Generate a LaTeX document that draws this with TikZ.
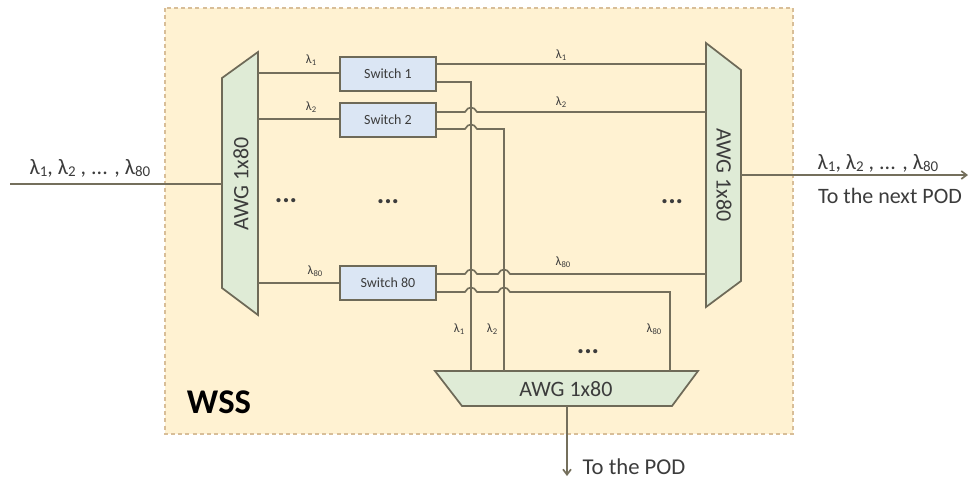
\documentclass[tikz,border=0pt]{standalone}
\usepackage{fontspec}
\setmainfont{Carlito}
\usetikzlibrary{arrows.meta}
\definecolor{wssfill}{HTML}{FFF2D2}
\definecolor{wssedge}{HTML}{D8BE98}
\definecolor{awgfill}{HTML}{DFEBD6}
\definecolor{swfill}{HTML}{DBE6F4}
\definecolor{wire}{HTML}{746F5C}
\definecolor{boxedge}{HTML}{6E6A58}
\definecolor{txt}{HTML}{3C3C3C}
\newcommand{\hopat}[2]{-- ({#1-6},#2) .. controls ({#1-3},{#2-6}) and ({#1+3},{#2-6}) .. ({#1+6},#2)}
\tikzset{
  wssbox/.style={fill=wssfill,draw=wssedge,line width=0.9pt,dash pattern=on 3pt off 2.4pt},
  awgshape/.style={fill=awgfill,draw=boxedge,line width=1.3pt,line join=miter},
  switchbox/.style={rectangle,fill=swfill,draw=boxedge,line width=1.4pt,minimum width=72pt,minimum height=25.5pt,inner sep=0pt,font=\fontsize{10.5}{12}\selectfont,text=txt},
  wireline/.style={draw=wire,line width=1.25pt},
  awgtext/.style={font=\fontsize{16.5}{19}\selectfont,text=txt,inner sep=0pt},
  biglabel/.style={font=\fontsize{16.5}{19}\selectfont,text=txt,inner sep=0pt},
  smalllabel/.style={font=\fontsize{9.5}{11}\selectfont,text=txt,inner sep=0pt},
  dotslabel/.style={font=\fontsize{21}{24}\selectfont\bfseries,text=txt,inner sep=0pt}
}
\newcommand{\lam}[1]{λ\raisebox{-0.25ex}{\scalebox{0.68}{#1}}}
\begin{document}
\begin{tikzpicture}[x=0.75pt,y=-0.75pt]
\useasboundingbox (0,0) rectangle (968,480);
\path[wssbox] (165,8) rectangle (793,434);
% AWG outlines
\path[awgshape] (222,78) -- (258,52) -- (258,315) -- (222,288) -- cycle;
\path[awgshape] (706,43) -- (741,70) -- (741,281) -- (706,307) -- cycle;
\path[awgshape] (435,371) -- (698,371) -- (672,406) -- (462,406) -- cycle;
\node[awgtext,rotate=90] (awgl) at (241,184) {AWG 1x80};
\node[awgtext,rotate=-90] (awgr) at (724,175) {AWG 1x80};
\node[awgtext] (awgb) at (566,389) {AWG 1x80};
% Switches
\node[switchbox] (s1) at (388,74) {Switch 1};
\node[switchbox] (s2) at (388,120) {Switch 2};
\node[switchbox] (s80) at (388,283) {Switch 80};
% Ports
\coordinate (in) at (10,184);
\coordinate (awglin) at (222,184);
\coordinate (l1) at (258,73);
\coordinate (l2) at (258,119);
\coordinate (l80) at (258,283);
\coordinate (r1) at (706,64);
\coordinate (r2) at (706,112);
\coordinate (r80) at (706,274);
\coordinate (awgrout) at (741,175);
\coordinate (out) at (968,175);
\coordinate (b1) at (471,371);
\coordinate (b2) at (504,371);
\coordinate (b80) at (670,371);
\coordinate (pod) at (567,476);
% Wires
\draw[wireline] (in) -- (awglin);
\draw[wireline] (l1) -- (s1.west |- l1);
\draw[wireline] (l2) -- (s2.west |- l2);
\draw[wireline] (l80) -- (s80.west |- l80);
\draw[wireline] (s1.east |- r1) -- (r1);
\draw[wireline] (s1.east |- 0,82) -- (b1 |- 0,82) -- (b1);
\draw[wireline] (s2.east |- r2) \hopat{471}{112} -- (r2);
\draw[wireline] (s2.east |- 0,129) \hopat{471}{129} -- (b2 |- 0,129) -- (b2);
\draw[wireline] (s80.east |- r80) \hopat{471}{274} \hopat{504}{274} -- (r80);
\draw[wireline] (s80.east |- 0,292) \hopat{471}{292} \hopat{504}{292} -- (b80 |- 0,292) -- (b80);
\draw[wireline,-{Straight Barb[length=4pt,width=6pt]}] (awgrout) -- (out);
\draw[wireline,-{Straight Barb[length=4pt,width=6pt]}] (pod |- 0,406) -- (pod);
% Labels
\node[biglabel] (tin) at (90,168) {\lam{1}, \lam{2} , ... , \lam{80}};
\node[biglabel] (tout) at (878,163) {\lam{1}, \lam{2} , ... , \lam{80}};
\node[biglabel] (tnext) at (890,196) {To the next POD};
\node[biglabel,font=\fontsize{17}{19}\selectfont] (tpod) at (634,467) {To the POD};
\node[smalllabel] (a1) at (311,60) {\lam{1}};
\node[smalllabel] (a2) at (311,107) {\lam{2}};
\node[smalllabel] (a80) at (315,271) {\lam{80}};
\node[smalllabel] (c1) at (561,55) {\lam{1}};
\node[smalllabel] (c2) at (561,102) {\lam{2}};
\node[smalllabel] (c80) at (563,262) {\lam{80}};
\node[smalllabel] (d1) at (459,329) {\lam{1}};
\node[smalllabel] (d2) at (492,329) {\lam{2}};
\node[smalllabel] (d80) at (654,329) {\lam{80}};
\node[dotslabel] (e1) at (286,201) {...};
\node[dotslabel] (e2) at (388,202) {...};
\node[dotslabel] (e3) at (672,202) {...};
\node[dotslabel] (e4) at (588,352) {...};
\node[font=\fontsize{26}{28}\selectfont\bfseries,text=black,inner sep=0pt] (wss) at (219,402) {WSS};
\end{tikzpicture}
\end{document}
